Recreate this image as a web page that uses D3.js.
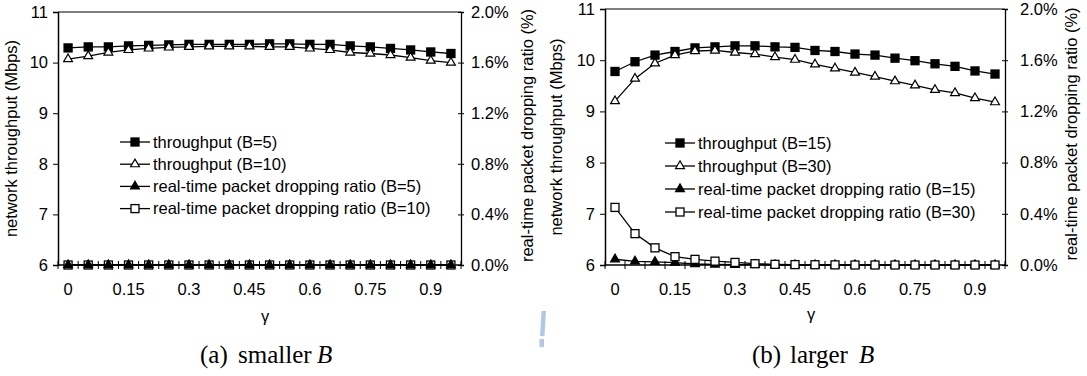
<!DOCTYPE html>
<html>
<head>
<meta charset="utf-8">
<script src="https://cdn.jsdelivr.net/npm/d3@7"></script>
<style>
  html, body { margin: 0; padding: 0; background: #fff; }
  svg { display: block; }
  text { font-family: Arial, "Liberation Sans", sans-serif; fill: #000; }
  .cap { font-family: "Times New Roman", "Liberation Serif", serif; }
</style>
</head>
<body>
<svg id="chart" width="1087" height="376"></svg>
<script>
// gamma categories (x axis)
var gamma = [0, 0.05, 0.1, 0.15, 0.2, 0.25, 0.3, 0.35, 0.4, 0.45,
             0.5, 0.55, 0.6, 0.65, 0.7, 0.75, 0.8, 0.85, 0.9, 0.95];
var gammaLabels = [0, 0.15, 0.3, 0.45, 0.6, 0.75, 0.9];
var leftTicks = [6, 7, 8, 9, 10, 11];
var rightTicks = [0, 0.004, 0.008, 0.012, 0.016, 0.02];

// (a) smaller B
var tputB5 = [10.29, 10.31, 10.31, 10.33, 10.34, 10.35, 10.36, 10.36, 10.36, 10.36,
              10.37, 10.37, 10.36, 10.36, 10.33, 10.31, 10.28, 10.25, 10.21, 10.18];
var tputB10 = [10.07, 10.13, 10.20, 10.25, 10.28, 10.30, 10.31, 10.32, 10.32, 10.32,
               10.31, 10.31, 10.28, 10.25, 10.20, 10.18, 10.15, 10.10, 10.04, 10.00];
var dropB5 = [0, 0, 0, 0, 0, 0, 0, 0, 0, 0, 0, 0, 0, 0, 0, 0, 0, 0, 0, 0];
var dropB10 = [0, 0, 0, 0, 0, 0, 0, 0, 0, 0, 0, 0, 0, 0, 0, 0, 0, 0, 0, 0];

// (b) larger B
var tputB15 = [9.78, 9.97, 10.10, 10.17, 10.24, 10.26, 10.28, 10.28, 10.26, 10.25,
               10.19, 10.17, 10.12, 10.10, 10.04, 9.99, 9.93, 9.88, 9.79, 9.73];
var tputB30 = [9.20, 9.64, 9.94, 10.10, 10.18, 10.19, 10.15, 10.12, 10.06, 10.01,
               9.92, 9.84, 9.76, 9.68, 9.59, 9.51, 9.42, 9.36, 9.26, 9.18];
var dropB15 = [0.00045, 0.00028, 0.00024, 0.00018, 0.00008, 0.00004, 0.00002, 0.00001, 0, 0,
               0, 0, 0, 0, 0, 0, 0, 0, 0, 0];
var dropB30 = [0.0045, 0.00245, 0.00134, 0.00065, 0.00044, 0.0003, 0.0002, 0.0001, 0.00005, 0.00003,
               0.00002, 0.00001, 0, 0, 0, 0, 0, 0, 0, 0];

var svg = d3.select("#chart");
svg.append("rect").attr("width", 1087).attr("height", 376).attr("fill", "#fff");

function drawMarker(g, type, x, y) {
    if (type == "sqFill" || type == "sqOpen") {
        g.append("rect")
            .attr("x", x - 4).attr("y", y - 4)
            .attr("width", 8).attr("height", 8)
            .attr("fill", type == "sqFill" ? "#000" : "#fff")
            .attr("stroke", "#000").attr("stroke-width", 1.3);
    } else {
        g.append("path")
            .attr("d", d3.symbol(d3.symbolTriangle, 34)())
            .attr("transform", "translate(" + x + "," + y + ")")
            .attr("fill", type == "triFill" ? "#000" : "#fff")
            .attr("stroke", "#000").attr("stroke-width", 1.2);
    }
}

function panel(p) {
    var g = svg.append("g");
    var x = d3.scaleBand().domain(gamma).range([p.left, p.right]).padding(0);
    var yL = d3.scaleLinear().domain([6, 11]).range([p.bottom, p.top]);
    var yR = d3.scaleLinear().domain([0, 0.02]).range([p.bottom, p.top]);
    var cx = function (d) { return x(d) + x.bandwidth() / 2; };

    // plot box top
    g.append("line")
        .attr("x1", p.left).attr("x2", p.right)
        .attr("y1", p.top).attr("y2", p.top)
        .attr("stroke", "#000").attr("stroke-width", 1);

    // left axis
    var ax = g.append("g")
        .attr("transform", "translate(" + p.left + ",0)")
        .call(d3.axisLeft(yL).tickValues(leftTicks).tickSize(5).tickPadding(5).tickFormat(d3.format("d")));
    ax.select(".domain").attr("stroke-width", 1.5);
    ax.selectAll("text").attr("font-size", 16.5).attr("font-family", null);

    // right axis
    var ar = g.append("g")
        .attr("transform", "translate(" + p.right + ",0)")
        .call(d3.axisRight(yR).tickValues(rightTicks).tickSize(3).tickPadding(p.rPad).tickFormat(d3.format(".1%")));
    ar.select(".domain").attr("stroke-width", 1.3);
    ar.selectAll(".tick line").attr("x1", -3);
    ar.selectAll("text").attr("font-size", 16.5).attr("font-family", null);

    // bottom axis: labels at band centers, crossing ticks at band edges
    var ab = g.append("g")
        .attr("transform", "translate(0," + p.bottom + ")")
        .call(d3.axisBottom(x).tickValues(gammaLabels).tickSize(0).tickPadding(18).tickFormat(d3.format("")));
    ab.select(".domain").remove();
    ab.selectAll("text").attr("font-size", 16.5).attr("font-family", null);

    var edges = gamma.map(function (d) { return x(d); }).concat([p.right]);
    g.selectAll(".xt").data(edges).enter().append("line")
        .attr("x1", function (d) { return d; }).attr("x2", function (d) { return d; })
        .attr("y1", p.bottom - 4).attr("y2", p.bottom + 4)
        .attr("stroke", "#000").attr("stroke-width", 1);
    g.append("line")
        .attr("x1", p.left).attr("x2", p.right)
        .attr("y1", p.bottom).attr("y2", p.bottom)
        .attr("stroke", "#000").attr("stroke-width", 1.5);

    // series
    p.series.forEach(function (s) {
        var sc = s.axis == "L" ? yL : yR;
        var line = d3.line()
            .x(function (d, i) { return cx(gamma[i]); })
            .y(function (d) { return sc(d); });
        g.append("path")
            .datum(s.values)
            .attr("d", line)
            .attr("fill", "none")
            .attr("stroke", "#000")
            .attr("stroke-width", 1.3);
        var mg = g.append("g");
        s.values.forEach(function (v, i) {
            drawMarker(mg, s.marker, cx(gamma[i]), sc(v));
        });
    });

    // legend
    var lg = g.append("g");
    p.legend.forEach(function (s, i) {
        var yy = p.legY + i * p.legStep;
        lg.append("line")
            .attr("x1", p.legX).attr("x2", p.legX + 30)
            .attr("y1", yy).attr("y2", yy)
            .attr("stroke", "#000").attr("stroke-width", 1.3);
        drawMarker(lg, s.marker, p.legX + 15, yy);
        lg.append("text")
            .attr("x", p.legX + 33).attr("y", yy)
            .attr("dy", "0.35em")
            .attr("font-size", 16.5)
            .text(s.name);
    });

    // axis titles
    var midY = (p.top + p.bottom) / 2;
    g.append("text")
        .attr("transform", "translate(" + p.lTitleX + "," + midY + ") rotate(-90)")
        .attr("text-anchor", "middle").attr("font-size", 16.5)
        .text("network throughput (Mbps)");
    g.append("text")
        .attr("transform", "translate(" + p.rTitleX + "," + (midY - 3) + ") rotate(-90)")
        .attr("text-anchor", "middle").attr("font-size", 16.5)
        .text("real-time packet dropping ratio (%)");
    g.append("text")
        .attr("x", p.gammaX).attr("y", p.gammaY)
        .attr("text-anchor", "middle").attr("font-size", 16.5)
        .text("γ");

    // caption
    var cap = g.append("text").attr("class", "cap").attr("y", 363).attr("font-size", 25);
    cap.append("tspan").attr("x", p.capX).text(p.capTag);
    cap.append("tspan").attr("x", p.capX + 38).text(p.capWord);
    cap.append("tspan").attr("x", p.capBX).attr("font-style", "italic").text("B");
}

var serA = [
    { name: "throughput (B=5)", values: tputB5, axis: "L", marker: "sqFill" },
    { name: "throughput (B=10)", values: tputB10, axis: "L", marker: "triOpen" },
    { name: "real-time packet dropping ratio (B=5)", values: dropB5, axis: "R", marker: "triFill" },
    { name: "real-time packet dropping ratio (B=10)", values: dropB10, axis: "R", marker: "sqOpen" }
];
var serB = [
    { name: "throughput (B=15)", values: tputB15, axis: "L", marker: "sqFill" },
    { name: "throughput (B=30)", values: tputB30, axis: "L", marker: "triOpen" },
    { name: "real-time packet dropping ratio (B=15)", values: dropB15, axis: "R", marker: "triFill" },
    { name: "real-time packet dropping ratio (B=30)", values: dropB30, axis: "R", marker: "sqOpen" }
];

panel({
    left: 58, right: 461, top: 12, bottom: 265, rPad: 7,
    series: [serA[0], serA[1], serA[3], serA[2]], legend: serA,
    legX: 120, legY: 142, legStep: 22.2,
    lTitleX: 17, rTitleX: 533, gammaX: 265, gammaY: 322,
    capX: 200, capTag: "(a)", capWord: "smaller", capBX: 317
});
panel({
    left: 605, right: 1005, top: 9, bottom: 265, rPad: 12,
    series: serB, legend: serB,
    legX: 665, legY: 143, legStep: 23,
    lTitleX: 562, rTitleX: 1077, gammaX: 811, gammaY: 320,
    capX: 752, capTag: "(b)", capWord: "larger", capBX: 859
});

// small light-blue mark between the panels
svg.append("path")
    .attr("d", "M541.5,311 L546,311 L544.5,336 L540,336 Z M539.5,339 L544,339 L544,347 L539.5,347 Z")
    .attr("fill", "#b4c6e6");
</script>
</body>
</html>
